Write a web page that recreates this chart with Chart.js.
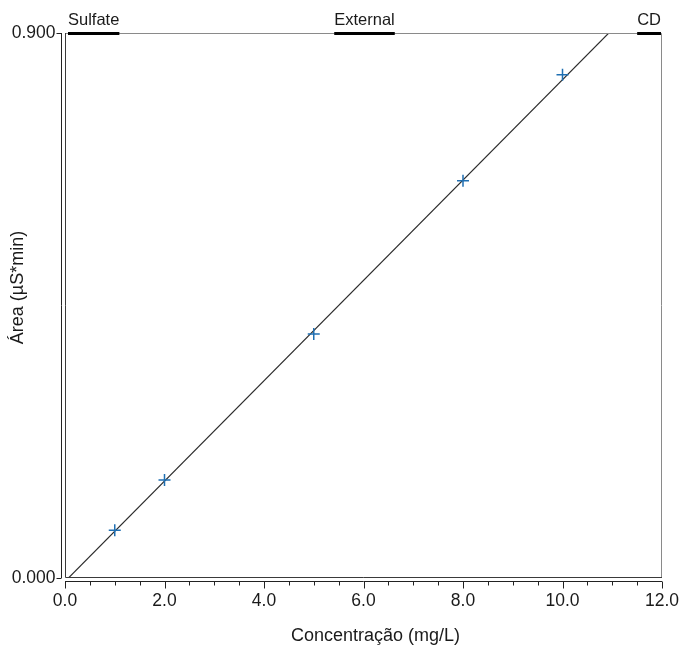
<!DOCTYPE html>
<html>
<head>
<meta charset="utf-8">
<script src="https://cdn.jsdelivr.net/npm/chart.js@4"></script>
<style>
  html, body { margin: 0; padding: 0; background: #fff; }
  #wrap { width: 682px; height: 648px; }
</style>
</head>
<body>
<div id="wrap"><canvas id="calChart" width="682" height="648"></canvas></div>
<script>
// calibration standards
const concentrations = [1, 2, 5, 8, 10];
const areas = [0.079, 0.162, 0.403, 0.656, 0.831];

// regression line end points
const fitX = [0.07, 10.93];
const fitY = [0.0, 0.9];

const xTickValues = [0, 0.5, 1, 1.5, 2, 2.5, 3, 3.5, 4, 4.5, 5, 5.5, 6, 6.5, 7, 7.5, 8, 8.5, 9, 9.5, 10, 10.5, 11, 11.5, 12];
const xTickLabels = ["0.0", "2.0", "4.0", "6.0", "8.0", "10.0", "12.0"];
const yTickValues = [0, 0.9];
const yTickLabels = ["0.000", "0.900"];

const headerLabels = ["Sulfate", "External", "CD"];

const FONT = "Liberation Sans, Arial, sans-serif";
const TEXT = "#1a1a1a";

const frameAndAxes = {
  id: "frameAndAxes",
  afterDraw(chart) {
    const { ctx, chartArea: a, scales } = chart;
    const xs = scales.x, ys = scales.y;
    ctx.save();

    // frame
    ctx.lineWidth = 1;
    ctx.strokeStyle = "#8a8a8a";
    ctx.beginPath();
    ctx.moveTo(a.left + 0.5, a.top + 0.5);
    ctx.lineTo(a.right - 0.5, a.top + 0.5);
    ctx.lineTo(a.right - 0.5, a.bottom - 0.5);
    ctx.stroke();
    ctx.strokeStyle = "#3a3a3a";
    ctx.beginPath();
    ctx.moveTo(a.left + 0.5, a.top);
    ctx.lineTo(a.left + 0.5, a.bottom - 0.5);
    ctx.lineTo(a.right, a.bottom - 0.5);
    ctx.stroke();

    // x axis line with ticks
    const axY = a.bottom + 3.5;
    ctx.strokeStyle = "#222";
    ctx.beginPath();
    ctx.moveTo(a.left, axY);
    ctx.lineTo(a.right, axY);
    xTickValues.forEach(v => {
      const px = Math.round(xs.getPixelForValue(v)) + 0.5;
      const major = v % 2 === 0;
      ctx.moveTo(px, axY);
      ctx.lineTo(px, axY + (major ? 7 : 4));
    });
    ctx.stroke();

    ctx.fillStyle = TEXT;
    ctx.font = "17.5px " + FONT;
    ctx.textAlign = "center";
    ctx.textBaseline = "middle";
    xTickLabels.forEach(t => {
      ctx.fillText(t, xs.getPixelForValue(parseFloat(t)), a.bottom + 23);
    });

    // y axis line with ticks
    const axX = a.left - 3.5;
    ctx.beginPath();
    ctx.moveTo(axX, a.top);
    ctx.lineTo(axX, a.bottom);
    yTickValues.forEach(v => {
      const py = Math.round(ys.getPixelForValue(v)) + 0.5;
      ctx.moveTo(axX, py);
      ctx.lineTo(axX - 5, py);
    });
    ctx.stroke();
    ctx.textAlign = "right";
    yTickLabels.forEach(t => {
      ctx.fillText(t, axX - 6, ys.getPixelForValue(parseFloat(t)));
    });

    // header labels with bars on the top border
    ctx.font = "16.5px " + FONT;
    ctx.textBaseline = "alphabetic";
    const spots = [
      { align: "left", x: a.left + 3 },
      { align: "center", x: (a.left + a.right) / 2 + 1 },
      { align: "right", x: a.right - 1 }
    ];
    headerLabels.forEach((t, i) => {
      const s = spots[i];
      ctx.textAlign = s.align;
      ctx.fillText(t, s.x, a.top - 8);
      const w = ctx.measureText(t).width;
      let x0 = s.x;
      if (s.align === "center") x0 = s.x - w / 2;
      if (s.align === "right") x0 = s.x - w;
      ctx.fillStyle = "#000";
      ctx.fillRect(x0, a.top - 1, w, 3);
      ctx.fillStyle = TEXT;
    });

    // axis titles
    ctx.font = "18px " + FONT;
    ctx.textAlign = "center";
    ctx.textBaseline = "middle";
    ctx.fillText("Concentração (mg/L)", (a.left + a.right) / 2 + 12, a.bottom + 58);
    ctx.translate(18, (a.top + a.bottom) / 2 - 18);
    ctx.rotate(-Math.PI / 2);
    ctx.fillText("Área (µS*min)", 0, 0);

    ctx.restore();
  }
};

new Chart(document.getElementById("calChart"), {
  type: "scatter",
  data: {
    datasets: [
      {
        label: "Calibration",
        data: concentrations.map((c, i) => ({ x: c, y: areas[i] })),
        pointStyle: "cross",
        pointRadius: 6,
        pointHoverRadius: 6,
        borderWidth: 1.5,
        borderColor: "#1f6fb2",
        backgroundColor: "#1f6fb2",
        order: 1
      },
      {
        label: "Fit",
        type: "line",
        data: fitX.map((x, i) => ({ x: x, y: fitY[i] })),
        borderColor: "#2a2a2a",
        borderWidth: 1.1,
        pointRadius: 0,
        fill: false,
        order: 2
      }
    ]
  },
  options: {
    responsive: false,
    animation: false,
    layout: { padding: { left: 65, right: 20, top: 33, bottom: 70 } },
    plugins: { legend: { display: false }, tooltip: { enabled: false } },
    scales: {
      x: { type: "linear", min: 0, max: 12, display: false },
      y: { type: "linear", min: 0, max: 0.9, display: false }
    }
  },
  plugins: [frameAndAxes]
});
</script>
</body>
</html>
